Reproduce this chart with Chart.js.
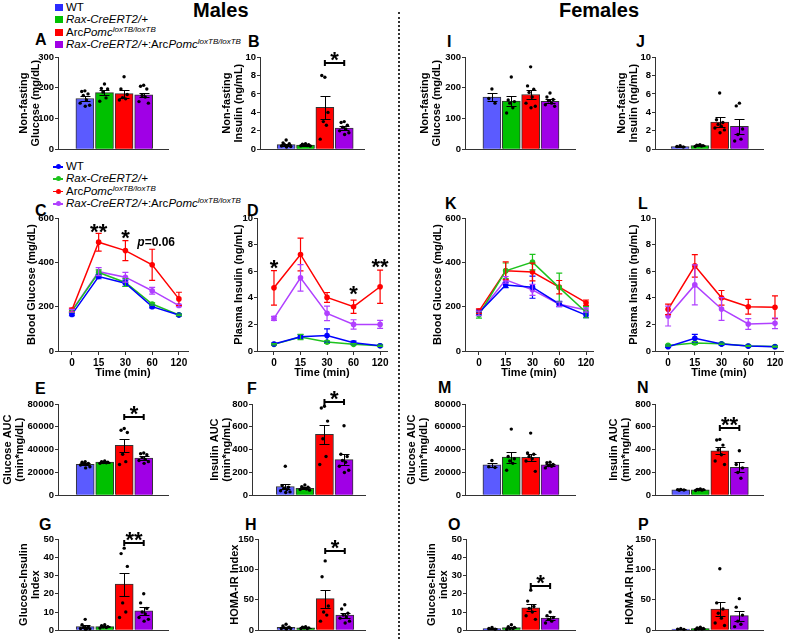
<!DOCTYPE html>
<html>
<head>
<title>Glucose and insulin, males and females</title>
<script src="https://cdn.jsdelivr.net/npm/chart.js"></script>
<style>
    body { margin: 0; width: 789px; height: 639px; position: relative; overflow: hidden; background: #fff;
           font-family: 'Liberation Sans', Arial, sans-serif; color: #000; }
    canvas { position: absolute; }
    .big { position: absolute; font-weight: bold; font-size: 20px; line-height: 20px; }
    .letter { position: absolute; font-weight: bold; font-size: 16px; line-height: 16px; }
    .leg { position: absolute; font-size: 11.5px; }
    .row { position: relative; height: 12.4px; line-height: 12.4px; white-space: nowrap; }
    .row sup { font-size: 8px; font-style: italic; position: relative; top: -4px; vertical-align: baseline; line-height: 0; }
    .sq { position: absolute; left: -11px; top: 3px; width: 8px; height: 7px; }
    .ln { position: absolute; left: -13px; top: 6px; width: 10px; height: 1.5px; }
    .ln b { position: absolute; left: 2.5px; top: -2px; width: 5px; height: 5px; border-radius: 50%; background: inherit; }
    .sep { position: absolute; left: 398px; top: 12px; height: 627px; border-left: 2px dotted #333; }
</style>
</head>
<body>

<div class="big" style="left:193px;top:0px">Males</div>
<div class="big" style="left:559px;top:0px">Females</div>
<div class="sep"></div>

<div class="leg" style="left:66px;top:1px">
    <div class="row"><i class="sq" style="background:#2b2bff"></i>WT</div>
    <div class="row"><i class="sq" style="background:#00c000"></i><em>Rax-CreERT2/+</em></div>
    <div class="row"><i class="sq" style="background:#ff0000"></i>Arc<em>Pomc</em><sup>loxTB/loxTB</sup></div>
    <div class="row"><i class="sq" style="background:#a000e6"></i><em>Rax-CreERT2/+</em>:Arc<em>Pomc</em><sup>loxTB/loxTB</sup></div>
</div>

<div class="leg" style="left:66px;top:160px">
    <div class="row"><i class="ln" style="background:#0000ff"><b></b></i>WT</div>
    <div class="row"><i class="ln" style="background:#1ec31e"><b></b></i><em>Rax-CreERT2/+</em></div>
    <div class="row"><i class="ln" style="background:#ff0000"><b></b></i>Arc<em>Pomc</em><sup>loxTB/loxTB</sup></div>
    <div class="row"><i class="ln" style="background:#b040ff"><b></b></i><em>Rax-CreERT2/+</em>:Arc<em>Pomc</em><sup>loxTB/loxTB</sup></div>
</div>

<script>
    // ---- data ----
    const groups = ['WT', 'Rax-CreERT2/+', 'ArcPomc loxTB/loxTB', 'Rax-CreERT2/+:ArcPomc loxTB/loxTB'];
    const timeLabels = ['0', '15', '30', '60', '120'];

    // males
    const mGluMean = [165, 184, 181, 177];
    const mGluSem = [9, 9, 13, 7];
    const mGluDots = [[190, 188, 180, 175, 160, 150, 143, 140], [212, 198, 196, 186, 167, 156],
        [236, 196, 178, 168, 164, 160], [208, 205, 196, 175, 170, 155, 150]];

    const mInsMean = [0.5, 0.45, 4.55, 2.3];
    const mInsSem = [0.1, 0.05, 1.25, 0.25];
    const mInsDots = [[1.0, 0.7, 0.6, 0.5, 0.4, 0.35, 0.3, 0.25], [0.6, 0.55, 0.5, 0.45, 0.4, 0.38, 0.35],
        [7.8, 8.0, 4.0, 3.0, 2.6, 1.1], [3.0, 2.9, 2.6, 2.4, 2.2, 2.0, 1.8, 1.6]];

    const mGttMean = [[165, 336, 306, 200, 162], [180, 354, 309, 212, 163],
        [185, 491, 453, 389, 235], [182, 358, 333, 272, 205]];
    const mGttSem = [[6, 10, 14, 5, 4], [6, 12, 18, 5, 3], [8, 40, 45, 70, 30], [6, 18, 22, 15, 5]];

    const mPlasmaMean = [[0.52, 1.07, 1.17, 0.62, 0.4], [0.5, 1.05, 0.67, 0.5, 0.4],
        [4.75, 7.26, 4.03, 3.33, 4.83], [2.45, 5.5, 2.83, 2.0, 2.0]];
    const mPlasmaSem = [[0.05, 0.15, 0.5, 0.12, 0.05], [0.05, 0.2, 0.1, 0.05, 0.05],
        [1.3, 1.23, 0.37, 0.5, 1.25], [0.15, 1.0, 0.55, 0.35, 0.3]];

    const mGluAucMean = [27100, 29100, 43700, 32600];
    const mGluAucSem = [900, 500, 5700, 1800];
    const mGluAucDots = [[29500, 29000, 28000, 27500, 27000, 26500, 25000, 24000], [30000, 29500, 29000, 28800, 28500, 28000],
        [58500, 57000, 55000, 36000, 29500, 27000], [37000, 36500, 35500, 33000, 31500, 30500, 29500, 28000]];

    const mInsAucMean = [77, 62, 534, 313];
    const mInsAucSem = [22, 8, 85, 48];
    const mInsAucDots = [[255, 85, 70, 60, 50, 40, 30, 25], [90, 75, 70, 62, 55, 50, 45],
        [780, 765, 650, 495, 340, 270], [610, 360, 340, 305, 290, 255, 220, 200]];

    const mGiiMean = [2.0, 2.0, 25.3, 10.6];
    const mGiiSem = [0.7, 0.3, 6.3, 2.0];
    const mGiiDots = [[6, 3, 2, 1.5, 1, 1, 0.8, 0.5], [3, 2.5, 2, 1.8, 1.5, 1.2],
        [45, 42, 35, 15, 10, 7], [20, 15, 12, 10, 9, 7, 6, 5]];

    const mHomaMean = [5, 4, 52, 25];
    const mHomaSem = [1, 0.5, 15, 4];
    const mHomaDots = [[10, 7, 5, 4, 4, 3, 3, 2], [6, 5, 4, 4, 3, 3],
        [114, 88, 40, 30, 25, 15], [42, 35, 28, 25, 22, 20, 15, 12]];

    // females
    const fGluMean = [170, 157, 178, 156];
    const fGluSem = [12, 17, 15, 7];
    const fGluDots = [[196, 165, 150], [235, 160, 155, 150, 135, 118],
        [268, 206, 195, 185, 170, 150, 140, 135], [183, 170, 162, 158, 150, 145, 140]];

    const fInsMean = [0.3, 0.4, 2.95, 2.5];
    const fInsSem = [0.05, 0.05, 0.5, 0.8];
    const fInsDots = [[0.4, 0.3, 0.25], [0.5, 0.45, 0.4, 0.4, 0.35, 0.3],
        [6.1, 3.2, 2.9, 2.7, 2.5, 2.3, 2.1, 1.8], [5.0, 4.7, 2.2, 1.6, 1.1, 0.9]];

    const fGttMean = [[173, 298, 288, 212, 162], [163, 362, 401, 286, 175],
        [180, 362, 356, 288, 218], [170, 321, 276, 211, 185]];
    const fGttSem = [[12, 12, 50, 12, 12], [15, 35, 35, 65, 25], [10, 40, 40, 30, 12], [10, 15, 25, 10, 10]];

    const fPlasmaMean = [[0.32, 0.95, 0.52, 0.37, 0.32], [0.42, 0.6, 0.55, 0.38, 0.33],
        [3.13, 6.4, 4.0, 3.33, 3.29], [2.63, 4.97, 3.16, 2.03, 2.08]];
    const fPlasmaSem = [[0.05, 0.3, 0.08, 0.05, 0.04], [0.05, 0.1, 0.05, 0.04, 0.04],
        [0.4, 0.85, 0.55, 0.55, 0.85], [0.75, 1.5, 0.85, 0.4, 0.4]];

    const fGluAucMean = [26600, 33500, 33300, 26600];
    const fGluAucSem = [2000, 4800, 3000, 1000];
    const fGluAucDots = [[30500, 25000, 24300], [58000, 34000, 32000, 30000, 28000, 22000],
        [54500, 37000, 36000, 34000, 32000, 30000, 21000], [29000, 28500, 27000, 26000, 25500, 24000]];

    const fInsAucMean = [48, 48, 390, 246];
    const fInsAucSem = [3, 4, 32, 42];
    const fInsAucDots = [[52, 50, 47, 44], [55, 52, 50, 48, 45, 42],
        [490, 485, 440, 400, 355, 300, 270], [390, 270, 240, 200, 150]];

    const fGiiMean = [1.0, 1.5, 12.3, 6.7];
    const fGiiSem = [0.3, 0.4, 2.0, 1.3];
    const fGiiDots = [[1.5, 1, 0.6], [3, 2, 1.5, 1, 1, 0.5], [22, 16, 13, 12, 10, 8, 6], [10, 8, 7, 6, 5, 4]];

    const fHomaMean = [2, 3, 35, 24];
    const fHomaSem = [0.5, 0.5, 11, 8];
    const fHomaDots = [[3, 2, 1.5], [5, 4, 3, 2.5, 2, 1.5], [101, 45, 35, 28, 20, 12, 8], [52, 38, 25, 15, 10, 6]];

    // ---- look ----
    const FONT = "'Liberation Sans', Arial, sans-serif";
    const AXIS = '#333';
    const BAR_COLORS = ['#5b5bff', '#00c000', '#ff0000', '#a000e6'];
    const LINE_COLORS = ['#0000ff', '#1ec31e', '#ff0000', '#b040ff'];
    const JITTER = [0, -0.16, 0.16, -0.08, 0.08, -0.24, 0.24, 0.02];

    // page layout of each panel (axis line x, right end, title x, plot top/bottom, x range)
    const layout = {
        A: {axisX: 58, rightX: 168, titleX: 24, top: 57, bottom: 152, xMin: -0.67, xMax: 3.54},
        B: {axisX: 260, rightX: 364, titleX: 227, top: 57, bottom: 152, xMin: -0.68, xMax: 3.35},
        I: {axisX: 465, rightX: 575, titleX: 425, top: 57, bottom: 152, xMin: -0.68, xMax: 3.58},
        J: {axisX: 655, rightX: 763, titleX: 622, top: 57, bottom: 152, xMin: -0.59, xMax: 3.51},
        C: {axisX: 58, rightX: 188, titleX: 32, top: 218, bottom: 351, xMin: -0.52, xMax: 4.34},
        D: {axisX: 257, rightX: 387, titleX: 239, top: 218, bottom: 351, xMin: -0.64, xMax: 4.26},
        K: {axisX: 465, rightX: 593, titleX: 438, top: 218, bottom: 351, xMin: -0.52, xMax: 4.26},
        L: {axisX: 655, rightX: 783, titleX: 634, top: 218, bottom: 351, xMin: -0.49, xMax: 4.3},
        E: {axisX: 58, rightX: 168, titleX: 8, top: 404, bottom: 498, xMin: -0.69, xMax: 3.54},
        F: {axisX: 252, rightX: 365, titleX: 215, top: 404, bottom: 498, xMin: -0.98, xMax: 3.35},
        M: {axisX: 465, rightX: 575, titleX: 412, top: 404, bottom: 498, xMin: -0.68, xMax: 3.58},
        N: {axisX: 655, rightX: 763, titleX: 614, top: 404, bottom: 498, xMin: -0.63, xMax: 3.52},
        G: {axisX: 58, rightX: 168, titleX: 24, top: 539, bottom: 633, xMin: -0.69, xMax: 3.54},
        H: {axisX: 258, rightX: 365, titleX: 235, top: 539, bottom: 633, xMin: -0.75, xMax: 3.35},
        O: {axisX: 466, rightX: 575, titleX: 432, top: 539, bottom: 633, xMin: -0.64, xMax: 3.58},
        P: {axisX: 655, rightX: 763, titleX: 630, top: 539, bottom: 633, xMin: -0.63, xMax: 3.52}
    };
    const letters = [['A', 35, 40], ['B', 248, 42], ['I', 447, 42], ['J', 636, 42],
        ['C', 35, 211], ['D', 247, 211], ['K', 445, 204], ['L', 638, 204],
        ['E', 35, 389], ['F', 247, 389], ['M', 438, 388], ['N', 637, 388],
        ['G', 39, 525], ['H', 245, 525], ['O', 448, 525], ['P', 638, 525]];

    letters.forEach(([t, x, y]) => {
        const d = document.createElement('div');
        d.className = 'letter';
        d.textContent = t;
        d.style.left = x + 'px';
        d.style.top = (y - 8) + 'px';
        document.body.appendChild(d);
    });

    function makeCanvas(left, top, w, h) {
        const c = document.createElement('canvas');
        c.width = w;
        c.height = h;
        c.style.left = left + 'px';
        c.style.top = top + 'px';
        document.body.appendChild(c);
        return c;
    }

    function yAxis(p, left, title, max, step) {
        return {
            min: 0, max: max,
            afterFit: s => { s.width = p.axisX - left; },
            border: {display: true, color: AXIS, width: 1},
            grid: {display: true, drawOnChartArea: false, drawTicks: true, tickLength: 3, tickColor: AXIS},
            ticks: {stepSize: step, color: '#000', padding: 1, callback: v => v,
                font: {family: FONT, size: 9.5, weight: 'bold'}},
            title: {display: true, text: title, color: '#000', padding: {top: 4, bottom: 0},
                font: {family: FONT, size: 11, weight: 'bold', lineHeight: 1.1}}
        };
    }

    function star(ctx, text, cx, cy) {
        ctx.font = 'bold 22px ' + FONT;
        ctx.textAlign = 'center';
        ctx.textBaseline = 'alphabetic';
        ctx.fillStyle = '#000';
        ctx.fillText(text, cx, cy + 12.5);
    }

    function barMarks(mean, sem, sig) {
        return {
            id: 'barMarks',
            afterDatasetsDraw(chart) {
                const {ctx, scales: {x, y}} = chart;
                ctx.save();
                ctx.strokeStyle = '#000';
                ctx.lineWidth = 1;
                mean.forEach((m, i) => {
                    const cx = Math.round(x.getPixelForValue(i)) + 0.5;
                    const top = Math.round(y.getPixelForValue(m + sem[i])) + 0.5;
                    const bot = Math.round(y.getPixelForValue(Math.max(0, m - sem[i]))) + 0.5;
                    ctx.beginPath();
                    ctx.moveTo(cx, top); ctx.lineTo(cx, bot);
                    ctx.moveTo(cx - 5, top); ctx.lineTo(cx + 5, top);
                    ctx.moveTo(cx - 5, bot); ctx.lineTo(cx + 5, bot);
                    ctx.stroke();
                });
                if (sig) {
                    const x1 = x.getPixelForValue(sig.from), x2 = x.getPixelForValue(sig.to);
                    const by = Math.round(y.getPixelForValue(sig.y));
                    ctx.lineWidth = 2;
                    ctx.beginPath();
                    ctx.moveTo(x1, by); ctx.lineTo(x2, by);
                    ctx.moveTo(x1, by - 3); ctx.lineTo(x1, by + 3);
                    ctx.moveTo(x2, by - 3); ctx.lineTo(x2, by + 3);
                    ctx.stroke();
                    star(ctx, sig.text, (x1 + x2) / 2, by - 9);
                }
                ctx.restore();
            }
        };
    }

    function barPanel(key, title, max, step, mean, sem, dots, sig) {
        const p = layout[key];
        const left = p.titleX - 10, padTop = 30, padBottom = 4;
        const canvas = makeCanvas(left, p.top - padTop, p.rightX + 10 - left, padTop + p.bottom - p.top + padBottom);
        const points = [];
        dots.forEach((arr, g) => arr.forEach((v, k) => points.push({x: g + JITTER[k % JITTER.length], y: v})));
        new Chart(canvas, {
            data: {
                datasets: [
                    {type: 'bar', label: 'mean', data: mean.map((m, i) => ({x: i, y: m})),
                        backgroundColor: BAR_COLORS, borderColor: '#333', borderWidth: 1, barThickness: 18, order: 2},
                    {type: 'scatter', label: 'animals', data: points, pointRadius: 1.7,
                        backgroundColor: '#000', borderWidth: 0, order: 1, clip: false}
                ]
            },
            options: {
                responsive: false, animation: false, devicePixelRatio: 1,
                layout: {padding: {left: 0, right: 10, top: padTop, bottom: padBottom}},
                plugins: {legend: {display: false}, tooltip: {enabled: false}},
                scales: {
                    x: {type: 'linear', min: p.xMin, max: p.xMax,
                        afterBuildTicks: s => { s.ticks = groups.map((g, i) => ({value: i})); },
                        afterFit: s => { s.height = 0; },
                        grid: {display: false}, ticks: {display: false},
                        border: {display: true, color: AXIS, width: 1}},
                    y: yAxis(p, left, title, max, step)
                }
            },
            plugins: [barMarks(mean, sem, sig)]
        });
    }

    function lineMarks(sems, notes) {
        return {
            id: 'lineMarks',
            afterDatasetsDraw(chart) {
                const {ctx, scales: {x, y}} = chart;
                ctx.save();
                ctx.lineWidth = 1.2;
                chart.data.datasets.forEach((ds, g) => {
                    ctx.strokeStyle = ds.borderColor;
                    ds.data.forEach((pt, j) => {
                        const cx = x.getPixelForValue(pt.x);
                        const top = y.getPixelForValue(pt.y + sems[g][j]);
                        const bot = y.getPixelForValue(pt.y - sems[g][j]);
                        ctx.beginPath();
                        ctx.moveTo(cx, top); ctx.lineTo(cx, bot);
                        ctx.moveTo(cx - 3, top); ctx.lineTo(cx + 3, top);
                        ctx.moveTo(cx - 3, bot); ctx.lineTo(cx + 3, bot);
                        ctx.stroke();
                    });
                });
                notes.forEach(n => {
                    const cx = x.getPixelForValue(n.x), cy = y.getPixelForValue(n.y);
                    if (n.text === 'p=0.06') {
                        ctx.fillStyle = '#000';
                        ctx.textBaseline = 'middle';
                        ctx.textAlign = 'left';
                        ctx.font = 'italic bold 12px ' + FONT;
                        const w1 = ctx.measureText('p').width;
                        ctx.font = 'bold 12px ' + FONT;
                        const w2 = ctx.measureText('=0.06').width;
                        const x0 = cx - (w1 + w2) / 2;
                        ctx.font = 'italic bold 12px ' + FONT;
                        ctx.fillText('p', x0, cy);
                        ctx.font = 'bold 12px ' + FONT;
                        ctx.fillText('=0.06', x0 + w1, cy);
                    } else {
                        star(ctx, n.text, cx, cy);
                    }
                });
                ctx.restore();
            }
        };
    }

    function linePanel(key, title, max, step, means, sems, notes) {
        const p = layout[key];
        const left = p.titleX - 10, padTop = 12, xH = 30, padBottom = 2;
        const canvas = makeCanvas(left, p.top - padTop, p.rightX + 10 - left, padTop + p.bottom - p.top + xH + padBottom);
        new Chart(canvas, {
            type: 'line',
            data: {
                datasets: means.map((m, g) => ({
                    label: groups[g], data: m.map((v, i) => ({x: i, y: v})),
                    borderColor: LINE_COLORS[g], backgroundColor: LINE_COLORS[g],
                    borderWidth: 1.5, pointRadius: 2.8, pointBorderWidth: 0, tension: 0, clip: false
                }))
            },
            options: {
                responsive: false, animation: false, devicePixelRatio: 1,
                layout: {padding: {left: 0, right: 10, top: padTop, bottom: padBottom}},
                plugins: {legend: {display: false}, tooltip: {enabled: false}},
                scales: {
                    x: {type: 'linear', min: p.xMin, max: p.xMax,
                        afterBuildTicks: s => { s.ticks = timeLabels.map((t, i) => ({value: i})); },
                        afterFit: s => { s.height = xH; },
                        border: {display: true, color: AXIS, width: 1},
                        grid: {display: true, drawOnChartArea: false, drawTicks: true, tickLength: 4, tickColor: AXIS},
                        ticks: {callback: v => timeLabels[v], autoSkip: false, maxRotation: 0, padding: 2, color: '#000',
                            font: {family: FONT, size: 10, weight: 'bold'}},
                        title: {display: true, text: 'Time (min)', color: '#000', padding: {top: 0, bottom: 1},
                            font: {family: FONT, size: 11, weight: 'bold'}}},
                    y: yAxis(p, left, title, max, step)
                }
            },
            plugins: [lineMarks(sems, notes)]
        });
    }

    // ---- males ----
    barPanel('A', ['Non-fasting', 'Glucose (mg/dL)'], 300, 100, mGluMean, mGluSem, mGluDots, null);
    barPanel('B', ['Non-fasting', 'Insulin (ng/mL)'], 10, 2, mInsMean, mInsSem, mInsDots, {from: 2, to: 3, y: 9.3, text: '*'});
    linePanel('C', 'Blood Glucose (mg/dL)', 600, 200, mGttMean, mGttSem,
        [{x: 1, y: 562, text: '**'}, {x: 2, y: 533, text: '*'}, {x: 3.15, y: 488, text: 'p=0.06'}]);
    linePanel('D', 'Plasma Insulin (ng/mL)', 10, 2, mPlasmaMean, mPlasmaSem,
        [{x: 0, y: 6.67, text: '*'}, {x: 3, y: 4.67, text: '*'}, {x: 4, y: 6.7, text: '**'}]);
    barPanel('E', ['Glucose AUC', '(min*mg/dL)'], 80000, 20000, mGluAucMean, mGluAucSem, mGluAucDots, {from: 2, to: 3, y: 68300, text: '*'});
    barPanel('F', ['Insulin AUC', '(min*ng/mL)'], 800, 200, mInsAucMean, mInsAucSem, mInsAucDots, {from: 2, to: 3, y: 820, text: '*'});
    barPanel('G', ['Glucose-Insulin', 'Index'], 50, 10, mGiiMean, mGiiSem, mGiiDots, {from: 2, to: 3, y: 48, text: '**'});
    barPanel('H', 'HOMA-IR Index', 150, 50, mHomaMean, mHomaSem, mHomaDots, {from: 2, to: 3, y: 130, text: '*'});

    // ---- females ----
    barPanel('I', ['Non-fasting', 'Glucose (mg/dL)'], 300, 100, fGluMean, fGluSem, fGluDots, null);
    barPanel('J', ['Non-fasting', 'Insulin (ng/mL)'], 10, 2, fInsMean, fInsSem, fInsDots, null);
    linePanel('K', 'Blood Glucose (mg/dL)', 600, 200, fGttMean, fGttSem, []);
    linePanel('L', 'Plasma Insulin (ng/mL)', 10, 2, fPlasmaMean, fPlasmaSem, []);
    barPanel('M', ['Glucose AUC', '(min*mg/dL)'], 80000, 20000, fGluAucMean, fGluAucSem, fGluAucDots, null);
    barPanel('N', ['Insulin AUC', '(min*ng/mL)'], 800, 200, fInsAucMean, fInsAucSem, fInsAucDots, {from: 2, to: 3, y: 594, text: '**'});
    barPanel('O', ['Glucose-Insulin', 'index'], 50, 10, fGiiMean, fGiiSem, fGiiDots, {from: 2, to: 3, y: 24, text: '*'});
    barPanel('P', 'HOMA-IR Index', 150, 50, fHomaMean, fHomaSem, fHomaDots, null);
</script>
</body>
</html>
